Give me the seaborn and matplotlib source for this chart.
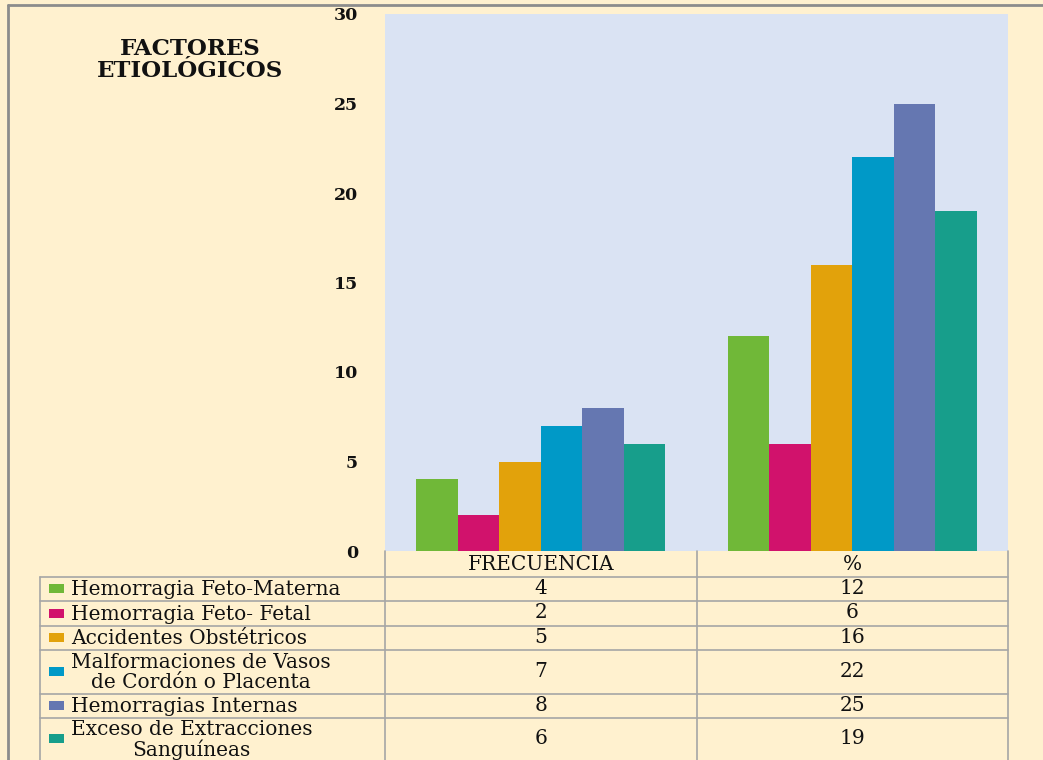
import matplotlib
matplotlib.use("Agg")
import matplotlib.pyplot as plt
import seaborn as sns
import pandas as pd
from matplotlib.lines import Line2D
from matplotlib.patches import Rectangle

# ---- data ----
categories = ["FRECUENCIA", "%"]
factores = [
    "Hemorragia Feto-Materna",
    "Hemorragia Feto- Fetal",
    "Accidentes Obstétricos",
    "Malformaciones de Vasos\nde Cordón o Placenta",
    "Hemorragias Internas",
    "Exceso de Extracciones\nSanguíneas",
]
frecuencia = [4, 2, 5, 7, 8, 6]
porcentaje = [12, 6, 16, 22, 25, 19]
yticks = [0, 5, 10, 15, 20, 25, 30]
title_lines = ["FACTORES", "ETIOLÓGICOS"]

colors = ["#70B838", "#D1126C", "#E2A20B", "#0099C7", "#6577B1", "#179E8B"]

df = pd.DataFrame({
    "categoria": [categories[0]] * len(factores) + [categories[1]] * len(factores),
    "factor": factores + factores,
    "valor": frecuencia + porcentaje,
})

sns.set_theme(style="white")
plt.rcParams["font.family"] = ["DejaVu Serif", "Liberation Serif"]

W, H = 1043, 760
fig = plt.figure(figsize=(W / 100, H / 100), dpi=100)
bg = "#FFF1CF"
fig.patch.set_facecolor(bg)

def fx(px):
    return px / W

def fy(py):
    return 1 - py / H

ax_l, ax_r, ax_t, ax_b = 385, 1008, 14, 551
ax = fig.add_axes([fx(ax_l), fy(ax_b), fx(ax_r - ax_l), fy(ax_t) - fy(ax_b)])
ax.set_facecolor("#DAE3F3")

sns.barplot(data=df, x="categoria", y="valor", hue="factor", order=categories,
            hue_order=factores, palette=colors, width=0.8, ax=ax,
            saturation=1, edgecolor="none", linewidth=0, legend=False)

ax.set_ylim(0, 30)
ax.set_xlim(-0.5, 1.5)
ax.set_yticks(yticks)
ax.set_yticklabels([str(t) for t in yticks], fontsize=12.5, fontweight="bold", color="#111111")
ax.tick_params(axis="y", length=0, pad=19.5)
ax.set_xticks([])
ax.set_xlabel("")
ax.set_ylabel("")
for s in ax.spines.values():
    s.set_visible(False)

# title
fig.text(fx(190), fy(49), title_lines[0], ha="center", va="center", fontsize=16.5,
         fontweight="bold", color="#111111")
fig.text(fx(190), fy(71), title_lines[1], ha="center", va="center", fontsize=16.5,
         fontweight="bold", color="#111111")

# outer border lines
grey = "#8C8C8C"
fig.add_artist(Line2D([fx(8), fx(W)], [fy(4.5), fy(4.5)], color=grey, lw=2))
fig.add_artist(Line2D([fx(8), fx(8)], [fy(4.5), fy(H)], color=grey, lw=2))

# ---- data table ----
tgrey = "#A6A6A6"
col_x = [40, 385, 697, 1008]
row_y = [551, 576.5, 600.5, 625.5, 649.5, 693.5, 717.5, 760]

for y in row_y[1:-1]:
    fig.add_artist(Line2D([fx(col_x[0]), fx(col_x[-1])], [fy(y), fy(y)], color=tgrey, lw=1.2))
fig.add_artist(Line2D([fx(col_x[0]), fx(col_x[0])], [fy(row_y[1]), fy(H)], color=tgrey, lw=1.2))
for x in col_x[1:]:
    fig.add_artist(Line2D([fx(x), fx(x)], [fy(row_y[0]), fy(H)], color=tgrey, lw=1.2))

tfs = 14.5
for j, cat in enumerate(categories):
    cx = (col_x[j + 1] + col_x[j + 2]) / 2
    cy = (row_y[0] + row_y[1]) / 2 + 1
    fig.text(fx(cx), fy(cy), cat, ha="center", va="center", fontsize=tfs, color="#111111")

vals = [frecuencia, porcentaje]
for i, name in enumerate(factores):
    cy = (row_y[i + 1] + row_y[i + 2]) / 2
    fig.add_artist(Rectangle((fx(49), fy(cy + 4.5)), fx(15), fy(cy - 4.5) - fy(cy + 4.5),
                             facecolor=colors[i], edgecolor="none"))
    fig.text(fx(71), fy(cy + 1), name, ha="left", va="center", fontsize=tfs,
             color="#111111", linespacing=1.05, multialignment="center")
    for j in range(2):
        cx = (col_x[j + 1] + col_x[j + 2]) / 2
        fig.text(fx(cx), fy(cy), str(vals[j][i]), ha="center", va="center",
                 fontsize=tfs, color="#111111")

fig.savefig("out.png", dpi=100, facecolor=bg)
